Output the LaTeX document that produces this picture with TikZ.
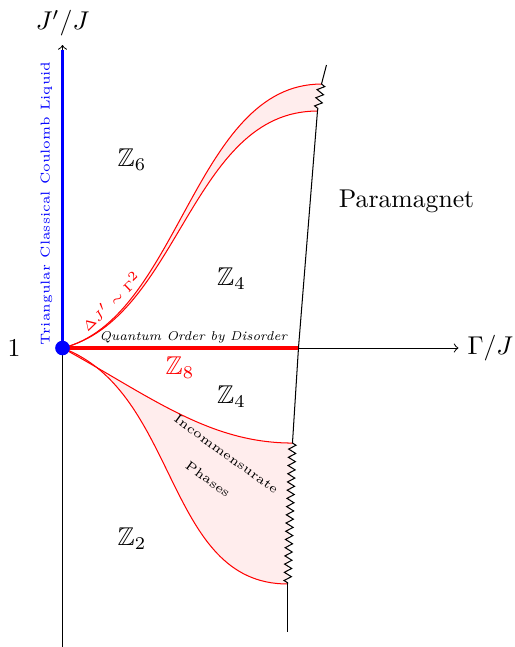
\documentclass[tikz,border=0pt]{standalone}
\usepackage{amsmath,amssymb}
\usetikzlibrary{arrows,positioning,calc,decorations.pathmorphing}

\begin{document}
\begin{tikzpicture}[
  zz/.style={decorate, decoration={zigzag, segment length=3.2pt, amplitude=1.4pt}},
  band/.style={fill=red!7},
  bandline/.style={red}]
\useasboundingbox (-0.855,-4.09) rectangle (6.19,4.761);
% points on the transition line
\coordinate (O) at (0,0);
\coordinate (T) at (3.611,3.871);
\coordinate (U1) at (3.543,3.611);
\coordinate (U2) at (3.488,3.242);
\coordinate (X) at (3.228,0);
\coordinate (L1) at (3.146,-1.300);
\coordinate (L2) at (3.078,-3.228);
\coordinate (B) at (3.078,-3.885);
% shaded bands
\fill[band] (O) .. controls (1.6,0.4) and (1.8,3.611) .. (U1) -- (U2)
  .. controls (1.75,3.242) and (1.6,0.4) .. (O);
\fill[band] (O) .. controls (1.2,-0.66) and (2.0,-1.3) .. (L1) -- (L2)
  .. controls (1.4,-3.228) and (1.6,-0.6) .. (O);
\draw[bandline] (O) .. controls (1.6,0.4) and (1.8,3.611) .. (U1);
\draw[bandline] (O) .. controls (1.6,0.4) and (1.75,3.242) .. (U2);
\draw[bandline] (O) .. controls (1.2,-0.66) and (2.0,-1.3) .. (L1);
\draw[bandline] (O) .. controls (1.6,-0.6) and (1.4,-3.228) .. (L2);
% transition line
\draw (T) -- (U1);
\draw[zz] (U1) -- (U2);
\draw (U2) -- (X) -- (L1);
\draw[zz] (L1) -- (L2);
\draw (L2) -- (B);
% axes
\draw[->] (0,-4.09) -- (0,4.145) node[above] (ylab) {$J'/J$};
\draw[->] (O) -- (5.417,0) node[right] (xlab) {$\Gamma/J$};
\draw[blue, thick] (O) -- (0,4.08);
\draw[red, line width=1.6pt] (O) -- (X);
\fill[blue] (O) circle (0.1);
\node (one) at (-0.663,0) {$1$};
% labels
\node[blue, rotate=90, font=\tiny] (tccl) at (-0.22,1.98) {Triangular Classical Coulomb Liquid};
\node[red, rotate=44, font=\tiny] (law) at (0.66,0.64) {$\Delta J' \sim \Gamma^2$};
\node[font=\tiny\itshape] (qobd) at (1.79,0.14) {Quantum Order by Disorder};
\node[red] (z8) at (1.607,-0.267) {$\mathbb{Z}_8$};
\node (z6) at (0.951,2.572) {$\mathbb{Z}_6$};
\node (z4a) at (2.312,0.951) {$\mathbb{Z}_4$};
\node (z4b) at (2.312,-0.663) {$\mathbb{Z}_4$};
\node (z2) at (0.951,-2.606) {$\mathbb{Z}_2$};
\node (pm) at (4.706,2.008) {Paramagnet};
\node[font=\tiny, rotate=-36] (inc) at (2.241,-1.453) {Incommensurate};
\node[font=\tiny, rotate=-36] (ph) at (1.990,-1.795) {Phases};
\end{tikzpicture}
\end{document}
